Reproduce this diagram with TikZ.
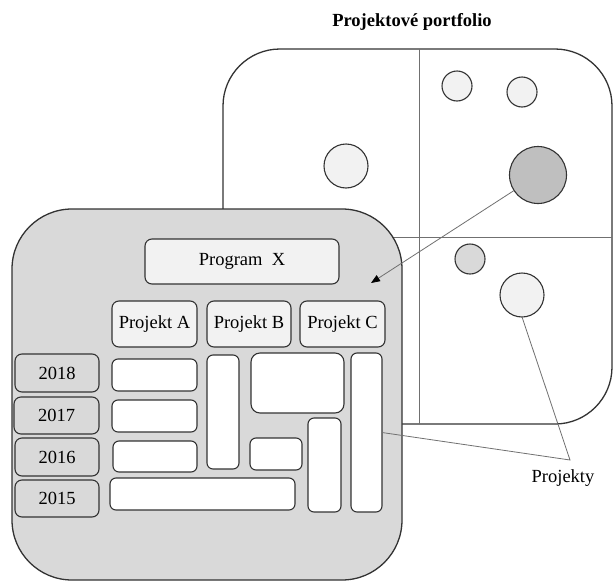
\documentclass[tikz,border=0pt]{standalone}
\usepackage{fontspec}
\setmainfont{Liberation Serif}
\usetikzlibrary{arrows.meta}
\definecolor{lgray}{HTML}{F2F2F2}
\definecolor{mgray}{HTML}{D9D9D9}
\definecolor{dgray}{HTML}{BFBFBF}
\definecolor{edge}{HTML}{333333}
\definecolor{conn}{HTML}{707070}
\begin{document}
\begin{tikzpicture}[x=1pt,y=-1pt,
  every node/.style={font=\fontsize{18.5}{22}\selectfont, inner sep=0pt, outer sep=0pt},
  bigbox/.style={draw=edge, line width=1.3pt, rectangle},
  lbox/.style={draw=edge, line width=1.1pt, rounded corners=7pt, fill=lgray, rectangle},
  ybox/.style={draw=edge, line width=1.1pt, rounded corners=7pt, fill=mgray, rectangle},
  wbox/.style={draw=edge, line width=1.1pt, rounded corners=6pt, fill=white, rectangle},
  proj/.style={draw=edge, line width=1.1pt, circle},
  axis/.style={draw=conn, line width=0.7pt},
  conline/.style={draw=conn, line width=0.8pt},
]
\useasboundingbox (0,0) rectangle (613,581);
% title
\node[font=\fontsize{18.5}{22}\selectfont\bfseries] (title) at (412,22) {Projektové portfolio};
% portfolio
\node[bigbox, fill=white, rounded corners=57pt, minimum width=389pt, minimum height=375pt] (pf) at (417.5,236.5) {};
\coordinate (vx) at (419,0);
\coordinate (hy) at (0,237);
\draw[axis] (vx |- pf.north) -- (vx |- pf.south);
\draw[axis] (hy -| pf.west) -- (hy -| pf.east);
% circles
\node[proj, fill=lgray, minimum size=30pt] (p1) at (457,86) {};
\node[proj, fill=lgray, minimum size=30pt] (p2) at (522,92) {};
\node[proj, fill=lgray, minimum size=44pt] (p3) at (346,166) {};
\node[proj, fill=dgray, minimum size=57pt] (p4) at (538,175) {};
\node[proj, fill=mgray, minimum size=30pt] (p5) at (470,259) {};
\node[proj, fill=lgray, minimum size=44pt] (p6) at (522,295) {};
% program box
\node[bigbox, fill=mgray, rounded corners=60pt, minimum width=390pt, minimum height=371pt] (prog) at (207,394.5) {};
\node[lbox, minimum width=194pt, minimum height=45pt] (px) at (242,261.5) {Program~~X};
\node[lbox, minimum width=85pt, minimum height=46pt] (pa) at (154.5,324) {Projekt A};
\node[lbox, minimum width=84pt, minimum height=46pt] (pb) at (249,324) {Projekt B};
\node[lbox, minimum width=85pt, minimum height=46pt] (pc) at (342.5,324) {Projekt C};
\node[ybox, minimum width=84pt, minimum height=38pt] (y18) at (57,373) {2018};
\node[ybox, minimum width=85pt, minimum height=37pt] (y17) at (56.5,415.5) {2017};
\node[ybox, minimum width=84pt, minimum height=38pt] (y16) at (57,457) {2016};
\node[ybox, minimum width=84pt, minimum height=37pt] (y15) at (57,498.5) {2015};
\node[wbox, minimum width=85pt, minimum height=32pt] (a18) at (154.5,375) {};
\node[wbox, minimum width=85pt, minimum height=32pt] (a17) at (154.5,416) {};
\node[wbox, minimum width=84pt, minimum height=31pt] (a16) at (155,456.5) {};
\node[wbox, minimum width=185pt, minimum height=32pt] (a15) at (202.5,494) {};
\node[wbox, minimum width=32pt, minimum height=114pt] (b1) at (223,412) {};
\node[wbox, rounded corners=9pt, minimum width=93pt, minimum height=60pt] (b2) at (297.5,383) {};
\node[wbox, minimum width=52pt, minimum height=32pt] (b3) at (276,454) {};
\node[wbox, minimum width=33pt, minimum height=94pt] (c1) at (324.5,465) {};
\node[wbox, minimum width=31pt, minimum height=159pt] (c2) at (366.5,432.5) {};
% arrow
\coordinate (tip) at (371,283);
\draw[conline, -{Triangle[length=9pt,width=7pt,color=black]}] (p4) -- (tip);
% label
\node (pj) at (563,478) {Projekty};
\coordinate (pjt) at (570,460);
\draw[conline] (p6.south) -- (pjt) -- (c2.east);
\end{tikzpicture}
\end{document}
